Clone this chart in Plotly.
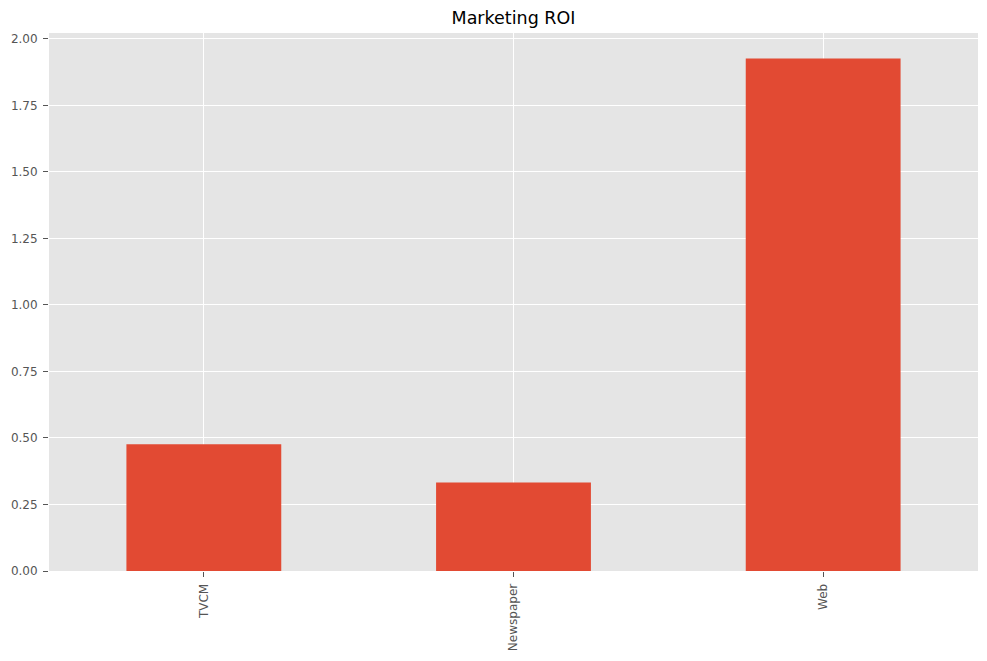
import plotly.graph_objects as go

channels = ["TVCM", "Newspaper", "Web"]
roi = [0.476, 0.333, 1.926]
y_ticks = [0.0, 0.25, 0.5, 0.75, 1.0, 1.25, 1.5, 1.75, 2.0]
y_tick_text = ["0.00", "0.25", "0.50", "0.75", "1.00", "1.25", "1.50", "1.75", "2.00"]

fig = go.Figure(go.Bar(
    x=channels, y=roi, width=0.5,
    marker=dict(color="#E24A33", line=dict(width=0)),
))

# page body has an 8px default margin, so margins are shifted by 8px
fig.update_layout(
    width=987, height=661,
    margin=dict(l=41, r=17, t=25, b=98, autoexpand=False),
    paper_bgcolor="white", plot_bgcolor="#E5E5E5",
    font=dict(family="DejaVu Sans", color="#555555", size=12),
    title=dict(text="Marketing ROI", x=0.5, xref="paper", xanchor="center",
               y=1, yref="container", yanchor="top", pad=dict(t=4),
               font=dict(family="DejaVu Sans", size=17.5, color="black")),
    showlegend=False,
)
fig.update_xaxes(
    type="category", range=[-0.5, 2.5], tickangle=-90, automargin=False,
    ticks="outside", ticklen=5, tickwidth=1, tickcolor="#555555",
    showgrid=True, gridcolor="white", gridwidth=1,
    showline=False, zeroline=False, tickfont=dict(size=12),
    ticklabelstandoff=2,
)
fig.update_yaxes(
    range=[0, 2.022], tickvals=y_ticks, ticktext=y_tick_text, automargin=False,
    ticks="outside", ticklen=5, tickwidth=1, tickcolor="#555555",
    showgrid=True, gridcolor="white", gridwidth=1,
    showline=False, zeroline=False, tickfont=dict(size=12),
    ticklabelstandoff=3,
)

fig.write_html("out.html")
